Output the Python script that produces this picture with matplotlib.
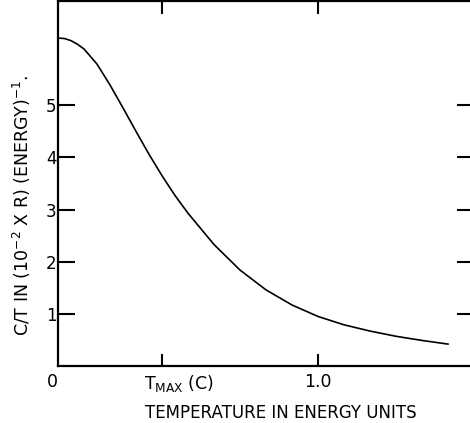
import matplotlib.pyplot as plt

# Curve
temperature = [0.0, 0.025, 0.05, 0.075, 0.10, 0.15, 0.20, 0.25, 0.30, 0.35, 0.40, 0.45,
               0.50, 0.60, 0.70, 0.80, 0.90, 1.00, 1.10, 1.20, 1.30, 1.40, 1.50]
c_over_t = [6.29, 6.28, 6.24, 6.17, 6.08, 5.79, 5.39, 4.95, 4.50, 4.06, 3.65, 3.27,
            2.93, 2.33, 1.84, 1.46, 1.17, 0.95, 0.79, 0.67, 0.57, 0.49, 0.42]

y_ticks = [1, 2, 3, 4, 5]
x_ticks = [0.4, 1.0]
x_tick_labels = ['0', r'$\mathrm{T}_{\mathrm{MAX}}$ (C)', '1.0']
x_label_pos = [-0.023, 0.33, 1.0]

plt.rcParams['font.family'] = 'DejaVu Sans'

fig = plt.figure(figsize=(4.70, 4.23), dpi=100)
W, H = 470, 423
# right spine falls just outside the picture, as in the scan
ax = fig.add_axes([58 / W, (H - 366) / H, (474 - 58) / W, (366 - 1) / H])

ax.plot(temperature, c_over_t, color='black', linewidth=1.2)

ax.set_xlim(0, 1.6)
ax.set_ylim(0, 7)

for s in ax.spines.values():
    s.set_linewidth(1.6)

ax.set_yticks(y_ticks)
ax.set_yticklabels([str(v) for v in y_ticks], fontsize=12)
ax.tick_params(axis='y', direction='in', length=12.5, width=1.5,
               left=True, right=True, pad=1)
ax.set_xticks(x_ticks)
ax.set_xticklabels([])
ax.tick_params(axis='x', direction='in', length=9, width=1.5,
               bottom=True, top=True)

for xv, lab in zip(x_label_pos, x_tick_labels):
    ax.text(xv, -0.018, lab, transform=ax.get_xaxis_transform(),
            ha='left' if lab.startswith('$') else 'center', va='top', fontsize=12.5)

ax.text(0.535, -0.105, 'TEMPERATURE IN ENERGY UNITS', transform=ax.transAxes,
        ha='center', va='top', fontsize=12)
ax.set_ylabel(r'C/T IN (10$^{-2}$ X R) (ENERGY)$^{-1}$.', fontsize=12.5)
ax.yaxis.set_label_coords(-0.06, 0.44)

fig.savefig('out.png', dpi=100)
